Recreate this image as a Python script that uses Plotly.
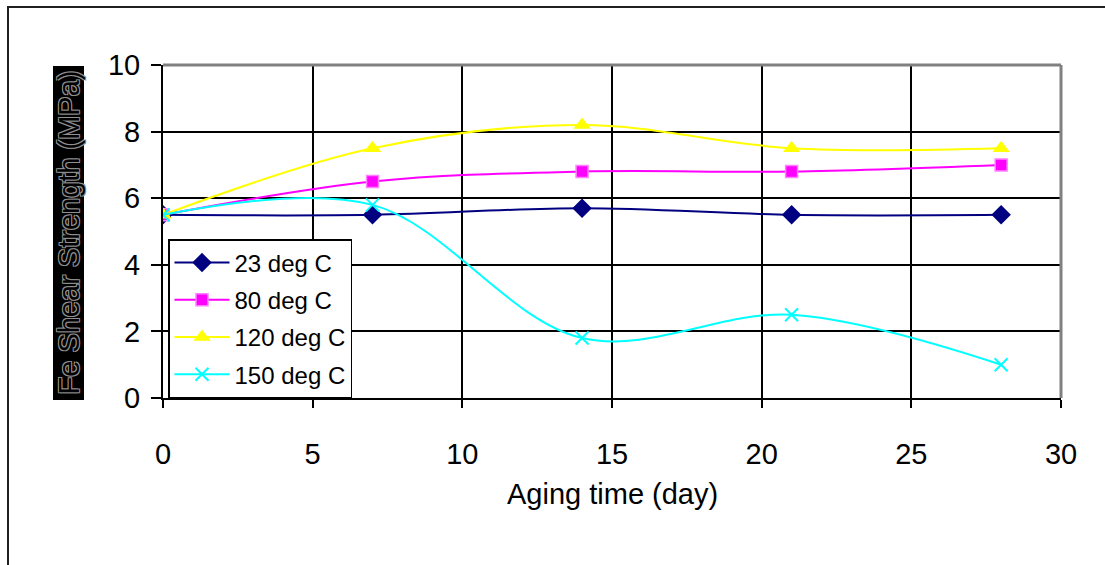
import plotly.graph_objects as go

days = [0, 7, 14, 21, 28]
s23 = [5.5, 5.5, 5.7, 5.5, 5.5]
s80 = [5.5, 6.5, 6.8, 6.8, 7.0]
s120 = [5.5, 7.5, 8.2, 7.5, 7.5]
s150 = [5.5, 5.8, 1.8, 2.5, 1.0]
names = ["23 deg C", "80 deg C", "120 deg C", "150 deg C"]

W, H = 1105, 565
L, R, T, B = 163, 1061, 65, 398


def px(x):
    return (x - L) / (R - L)


def py(y):
    return (B - y) / (B - T)


fig = go.Figure()
styles = [
    dict(color="#000080", marker=dict(symbol="diamond", size=15, color="#000080", line=dict(width=0))),
    dict(color="#FF00FF", marker=dict(symbol="square", size=12, color="#FF00FF", line=dict(width=1.5, color="#FF80FF"))),
    dict(color="#FFFF00", marker=dict(symbol="triangle-up", size=15, color="#FFFF00", line=dict(width=0))),
    dict(color="#00FFFF", marker=dict(symbol="x-thin", size=13, color="#00FFFF", line=dict(width=2, color="#00FFFF"))),
]
for i, (nm, ys) in enumerate(zip(names, [s23, s80, s120, s150])):
    st = styles[i]
    fig.add_trace(go.Scatter(
        x=days, y=ys, name=nm, mode="lines+markers",
        line=dict(color=st["color"], width=2, shape="spline", smoothing=1.0),
        marker=st["marker"], legendgroup=nm,
    ))

fig.update_layout(
    width=W, height=H, autosize=False,
    margin=dict(l=L, r=W - R, t=T, b=H - B, pad=0),
    paper_bgcolor="white", plot_bgcolor="white",
    font=dict(family="Arial, Liberation Sans, sans-serif", color="black"),
    showlegend=True,
    legend=dict(
        x=px(168), y=py(239), xanchor="left", yanchor="top",
        bgcolor="white", bordercolor="black", borderwidth=1.5,
        font=dict(size=24, family="Arial, Liberation Sans, sans-serif", color="black"),
        itemwidth=55, tracegroupgap=3, traceorder="grouped",
    ),
    xaxis=dict(
        range=[0, 30], tickvals=[0, 5, 10, 15, 20, 25, 30],
        showgrid=True, gridcolor="black", gridwidth=2,
        showline=True, linecolor="black", linewidth=2,
        ticks="outside", ticklen=8, tickwidth=2, tickcolor="black",
        tickfont=dict(size=29), ticklabelstandoff=21,
        zeroline=False, fixedrange=True,
    ),
    yaxis=dict(
        range=[0, 10], tickvals=[0, 2, 4, 6, 8, 10],
        showgrid=True, gridcolor="black", gridwidth=2,
        showline=True, linecolor="black", linewidth=2,
        ticks="outside", ticklen=10, tickwidth=2, tickcolor="black",
        tickfont=dict(size=29), ticklabelstandoff=5,
        zeroline=False, fixedrange=True,
    ),
    shapes=[
        dict(type="rect", xref="paper", yref="paper",
             x0=px(8), x1=px(1125), y0=py(585), y1=py(7),
             line=dict(color="#202020", width=2), fillcolor="rgba(0,0,0,0)", layer="below"),
        dict(type="rect", xref="paper", yref="paper",
             x0=px(53), x1=px(84), y0=py(400), y1=py(66),
             line=dict(width=0), fillcolor="black", layer="above"),
        dict(type="line", xref="paper", yref="paper", x0=0, x1=1, y0=1, y1=1,
             line=dict(color="#808080", width=3), layer="above"),
        dict(type="line", xref="paper", yref="paper", x0=1, x1=1, y0=0, y1=1,
             line=dict(color="#808080", width=3), layer="above"),
    ],
    annotations=[
        dict(text="Fe Shear Strength (MPa)", xref="paper", yref="paper",
             x=px(68.5), y=py(233), xanchor="center", yanchor="middle",
             textangle=-90, showarrow=False,
             font=dict(size=29, color="black", family="Arial, Liberation Sans, sans-serif",
                       shadow="-1px -1px 0 #909090, 1px -1px 0 #909090, -1px 1px 0 #909090, 1px 1px 0 #909090")),
        dict(text="Aging time (day)", xref="paper", yref="paper",
             x=0.5, y=py(494), xanchor="center", yanchor="middle", showarrow=False,
             font=dict(size=29, color="black", family="Arial, Liberation Sans, sans-serif")),
    ],
)

fig.write_html("out.html")
